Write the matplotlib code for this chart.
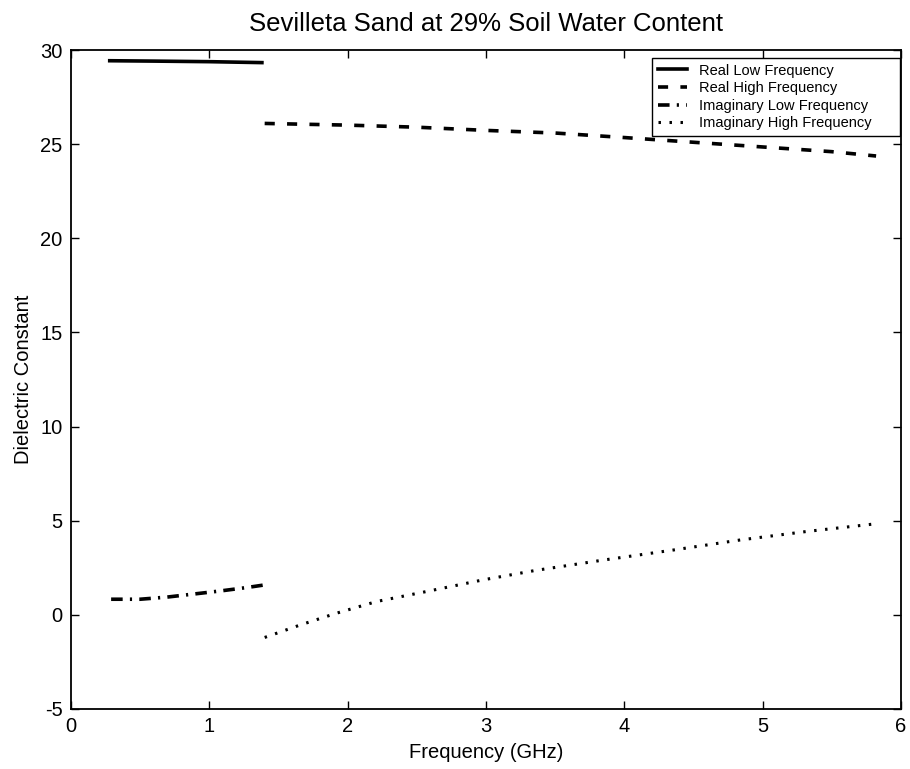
import matplotlib
matplotlib.use('Agg')
import matplotlib.pyplot as plt

plt.rcParams['font.family'] = ['Liberation Sans', 'DejaVu Sans']
plt.rcParams['axes.unicode_minus'] = False

# Real part, low frequency probe
real_low_f = [0.28, 0.6, 1.0, 1.38]
real_low = [29.43, 29.41, 29.38, 29.33]

# Real part, high frequency probe
real_high_f = [1.4, 2.0, 2.5, 3.0, 3.5, 4.0, 4.5, 5.0, 5.5, 5.82]
real_high = [26.1, 26.01, 25.9, 25.73, 25.59, 25.35, 25.1, 24.85, 24.6, 24.37]

# Imaginary part, low frequency probe
imag_low_f = [0.29, 0.5, 0.69, 0.88, 1.08, 1.27, 1.39]
imag_low = [0.83, 0.83, 0.94, 1.10, 1.27, 1.45, 1.58]

# Imaginary part, high frequency probe
imag_high_f = [1.40, 1.66, 1.92, 2.21, 2.57, 2.98, 3.35, 3.83, 4.36, 4.84, 5.32, 5.81]
imag_high = [-1.2, -0.53, 0.09, 0.71, 1.24, 1.86, 2.35, 2.89, 3.45, 3.98, 4.43, 4.83]

labels = ['Real Low Frequency', 'Real High Frequency',
          'Imaginary Low Frequency', 'Imaginary High Frequency']

fig = plt.figure(figsize=(9.1, 7.69), dpi=100)
ax = fig.add_axes([71/910, 1-709/769, 830/910, 659/769])

ax.plot(real_low_f, real_low, color='black', lw=2.6, ls='-', label=labels[0])
ax.plot(real_high_f, real_high, color='black', lw=2.6, ls=(0, (2.8, 3.4)), label=labels[1])
ax.plot(imag_low_f, imag_low, color='black', lw=2.6, ls=(0, (3.2, 2.0, 0.6, 2.0)), label=labels[2])
ax.plot(imag_high_f, imag_high, color='black', lw=2.2, ls=(0, (0.8, 2.8)), label=labels[3])

ax.set_xlim(0, 6)
ax.set_ylim(-5, 30)
ax.set_xticks(range(0, 7))
ax.set_yticks(range(-5, 31, 5))
ax.tick_params(direction='in', top=True, right=True, length=6, width=1, labelsize=14.5, pad=6)
for s in ax.spines.values():
    s.set_linewidth(1.3)

ax.set_title('Sevilleta Sand at 29% Soil Water Content', fontsize=18.5, pad=14)
ax.set_xlabel('Frequency (GHz)', fontsize=14.5)
ax.set_ylabel('Dielectric Constant', fontsize=14.5)
ax.xaxis.set_label_coords(0.5, -0.052)
ax.yaxis.set_label_coords(-0.046, 0.5)

# legend box spans roughly x 652..900 px, top at 57.7 px
leg = ax.legend(loc='upper left', mode='expand',
                bbox_to_anchor=(652/910, 1-57.7/769, (900-652)/910, 0.0),
                bbox_transform=fig.transFigure, borderaxespad=0,
                fontsize=10.5, handlelength=2.0, labelspacing=0.25,
                fancybox=False, framealpha=1, edgecolor='black')
leg.get_frame().set_linewidth(1.0)

fig.savefig('out.png', dpi=100)
